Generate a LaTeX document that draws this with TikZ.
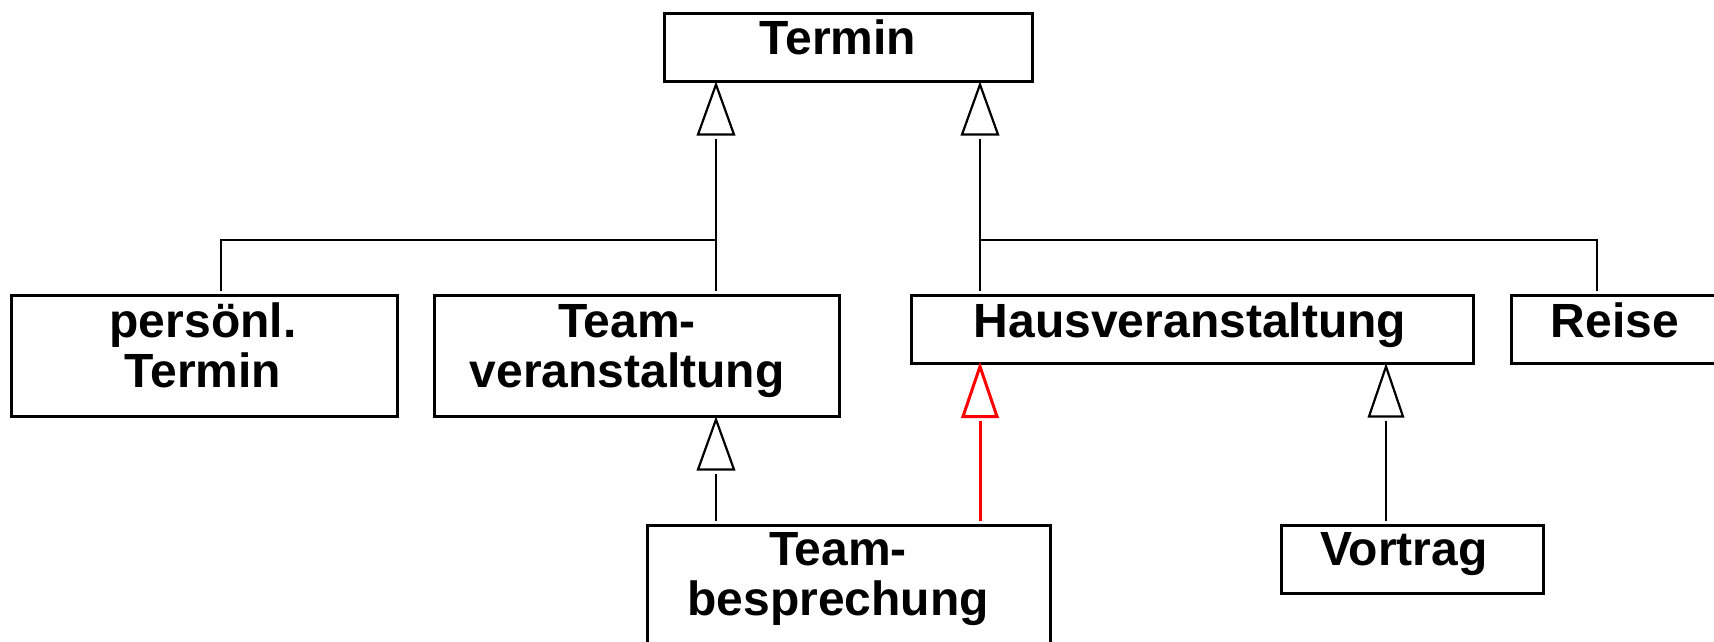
\documentclass[tikz,border=0pt]{standalone}
\usepackage{fontspec}
\setmainfont{Liberation Sans}
\usetikzlibrary{calc}
\tikzset{
  cls/.style={draw=black, line width=2.5pt, inner sep=0pt, anchor=north west, rectangle},
  lbl/.style={inner sep=0pt, anchor=base, align=center, font=\fontsize{48}{50}\selectfont\bfseries},
  conn/.style={draw=black, line width=2.2pt},
  redconn/.style={draw=red, line width=3pt},
  gentri/.style={draw=black, fill=white, line width=2.2pt, line join=miter},
  redtri/.style={draw=red, fill=white, line width=3pt, line join=miter},
}
\begin{document}
\begin{tikzpicture}[x=1pt, y=-1pt]
\useasboundingbox (0,0) rectangle (1714,641);
\clip (0,0) rectangle (1714,641);
% boxes
\node[cls, minimum width=368pt, minimum height=68pt]  (termin)  at (663,12)  {};
\node[cls, minimum width=386pt, minimum height=121pt] (pers)    at (10,294)  {};
\node[cls, minimum width=405pt, minimum height=121pt] (teamv)   at (433,294) {};
\node[cls, minimum width=562pt, minimum height=68pt]  (haus)    at (910,294) {};
\node[cls, minimum width=220pt, minimum height=68pt]  (reise)   at (1510,294) {};
\node[cls, minimum width=403pt, minimum height=140pt] (teamb)   at (646,524) {};
\node[cls, minimum width=262pt, minimum height=68pt]  (vortrag) at (1280,524) {};
% labels (multi-line labels are anchored at the baseline of their last line)
\node[lbl] (tTermin) at (838,54) {Termin};
\node[lbl] (tPers) at (203,387) {persönl.\\Termin};
\node[lbl] (tTeamv) at (627,387) {Team-\\veranstaltung};
\node[lbl] (tHaus) at (1190,337) {Hausveranstaltung};
\node[lbl] (tReise) at (1615,337) {Reise};
\node[lbl] (tTeamb) at (838,615) {Team-\\besprechung};
\node[lbl] (tVortrag) at (1404,565) {Vortrag};
% junction coordinates
\coordinate (jL) at (716,240);
\coordinate (jR) at (980,240);
% Termin <- persoenl. / Team-veranstaltung
\draw[gentri] ($(716,0 |- termin.south)+(0,2)$) -- ++(-18,50) -- ++(36,0) -- cycle;
\draw[conn] ($(716,0 |- termin.south)+(0,56)$) -- (jL) -- ($(716,0 |- teamv.north)+(0,-3)$);
\draw[conn] (jL) -- (221,240) -- ($(221,0 |- pers.north)+(0,-3)$);
% Termin <- Hausveranstaltung / Reise
\draw[gentri] ($(980,0 |- termin.south)+(0,2)$) -- ++(-18,50) -- ++(36,0) -- cycle;
\draw[conn] ($(980,0 |- termin.south)+(0,56)$) -- (jR) -- ($(980,0 |- haus.north)+(0,-3)$);
\draw[conn] (jR) -- (1597,240) -- ($(1597,0 |- reise.north)+(0,-3)$);
% Team-veranstaltung <- Team-besprechung
\draw[gentri] ($(716,0 |- teamv.south)+(0,2)$) -- ++(-18,50) -- ++(36,0) -- cycle;
\draw[conn] ($(716,0 |- teamv.south)+(0,56)$) -- ($(716,0 |- teamb.north)+(0,-3)$);
% Hausveranstaltung <- Team-besprechung (red)
\draw[redtri] ($(980,0 |- haus.south)+(0,2)$) -- ++(-17,50) -- ++(34,0) -- cycle;
\draw[redconn] ($(980,0 |- haus.south)+(0,56)$) -- ($(980,0 |- teamb.north)+(0,-3)$);
% Hausveranstaltung <- Vortrag
\draw[gentri] ($(1386,0 |- haus.south)+(0,2)$) -- ++(-17,50) -- ++(34,0) -- cycle;
\draw[conn] ($(1386,0 |- haus.south)+(0,56)$) -- ($(1386,0 |- vortrag.north)+(0,-3)$);
\end{tikzpicture}
\end{document}
